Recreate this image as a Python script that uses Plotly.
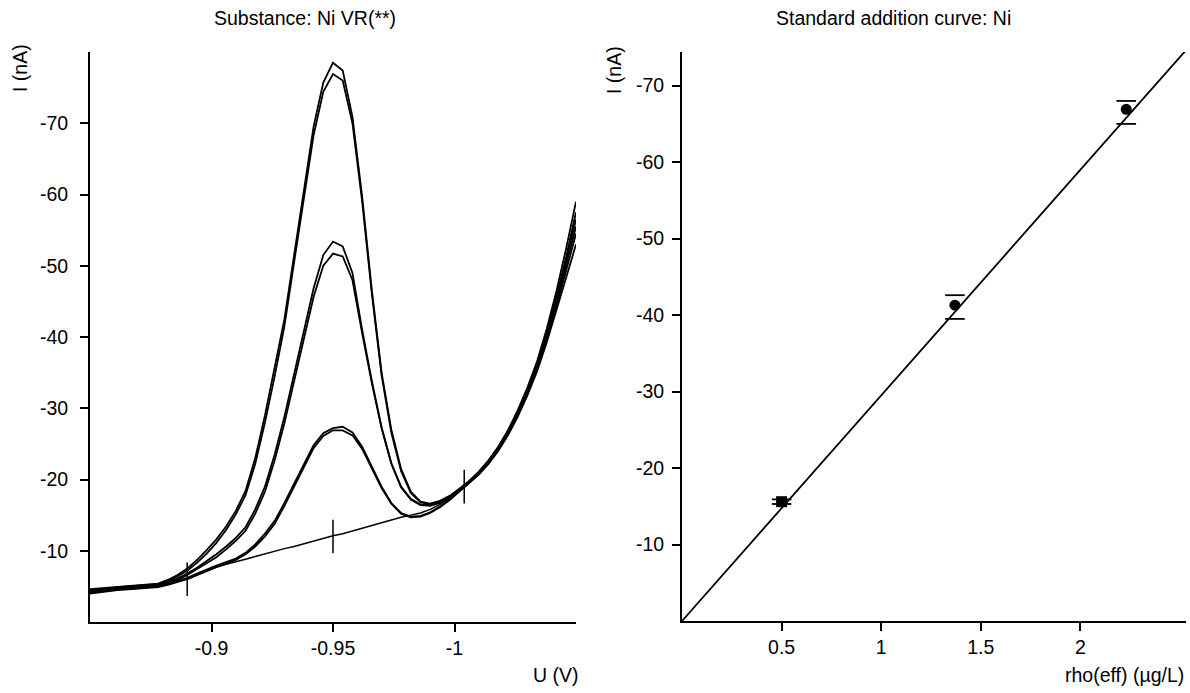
import plotly.graph_objects as go

# ---------------- Left panel: voltammograms ----------------
potential = [-0.850, -0.854, -0.858, -0.862, -0.866, -0.870, -0.874, -0.878, -0.882, -0.886,
             -0.890, -0.894, -0.898, -0.902, -0.906, -0.910, -0.914, -0.918, -0.922, -0.926,
             -0.930, -0.934, -0.938, -0.942, -0.946, -0.950, -0.954, -0.958, -0.962, -0.966,
             -0.970, -0.974, -0.978, -0.982, -0.986, -0.990, -0.994, -0.998, -1.002, -1.006,
             -1.010, -1.014, -1.018, -1.022, -1.026, -1.030, -1.034, -1.038, -1.042, -1.046,
             -1.050]

add2_a = [-4.6, -4.7, -4.8, -5.0, -5.1, -5.2, -5.3, -5.4, -5.9, -6.6, -7.5, -8.7, -10.1, -11.6, -13.4,
          -15.6, -18.4, -23.0, -29.0, -35.5, -42.5, -51.5, -60.7, -69.5, -75.7, -78.5, -77.4, -70.9,
          -59.7, -46.5, -35.0, -27.0, -21.5, -18.3, -16.9, -16.6, -17.0, -17.7, -18.7, -19.8, -21.1,
          -22.7, -24.6, -26.9, -29.7, -32.9, -36.6, -41.2, -46.5, -52.5, -59.0]
add2_b = [-4.4, -4.5, -4.7, -4.9, -5.0, -5.1, -5.2, -5.3, -5.7, -6.4, -7.2, -8.3, -9.6, -11.1, -12.9,
          -15.1, -17.8, -22.2, -28.0, -34.5, -41.5, -50.5, -59.5, -68.3, -74.4, -76.9, -76.0, -70.0,
          -59.0, -46.0, -34.6, -26.6, -21.2, -18.1, -16.8, -16.5, -16.9, -17.6, -18.6, -19.7, -21.0,
          -22.6, -24.5, -26.8, -29.5, -32.7, -36.3, -40.7, -45.7, -51.3, -57.5]
add1_a = [-4.3, -4.4, -4.6, -4.8, -4.9, -5.0, -5.1, -5.2, -5.5, -6.1, -6.8, -7.6, -8.5, -9.5, -10.6,
          -11.8, -13.3, -15.8, -19.0, -23.5, -28.8, -34.8, -40.8, -46.8, -51.5, -53.4, -52.7, -49.0,
          -41.0, -33.8, -27.3, -22.3, -19.0, -17.3, -16.5, -16.4, -16.8, -17.5, -18.5, -19.6, -20.9,
          -22.5, -24.4, -26.7, -29.4, -32.5, -36.1, -40.4, -45.3, -50.7, -56.5]
add1_b = [-4.1, -4.3, -4.5, -4.7, -4.8, -4.9, -5.0, -5.1, -5.4, -5.9, -6.6, -7.4, -8.2, -9.1, -10.2,
          -11.4, -12.8, -15.2, -18.3, -22.7, -27.9, -33.8, -39.8, -45.6, -50.0, -51.7, -51.3, -48.0,
          -40.5, -33.5, -27.2, -22.2, -18.9, -17.2, -16.4, -16.3, -16.7, -17.4, -18.4, -19.5, -20.8,
          -22.4, -24.3, -26.5, -29.2, -32.3, -35.8, -40.0, -44.8, -50.0, -55.5]
sample_a = [-4.2, -4.3, -4.5, -4.6, -4.7, -4.8, -4.9, -5.0, -5.3, -5.7, -6.2, -6.8, -7.4, -7.9, -8.4,
            -8.9, -9.7, -10.9, -12.4, -14.2, -16.7, -19.4, -22.3, -24.8, -26.5, -27.2, -27.4, -26.6,
            -24.6, -21.7, -19.0, -16.7, -15.3, -14.8, -14.9, -15.4, -16.2, -17.2, -18.4, -19.5, -20.8,
            -22.4, -24.2, -26.4, -29.0, -32.1, -35.6, -39.8, -44.4, -49.4, -54.5]
sample_b = [-4.0, -4.2, -4.4, -4.5, -4.6, -4.7, -4.8, -4.9, -5.2, -5.6, -6.0, -6.6, -7.2, -7.7, -8.2,
            -8.7, -9.5, -10.6, -12.0, -13.8, -16.3, -19.0, -21.9, -24.4, -26.1, -26.9, -26.9, -26.2,
            -24.3, -21.5, -18.8, -16.6, -15.2, -14.7, -14.8, -15.3, -16.1, -17.1, -18.3, -19.4, -20.7,
            -22.2, -24.0, -26.2, -28.8, -31.8, -35.2, -39.3, -43.7, -48.4, -53.0]

baseline_u = [-0.890, -0.894, -0.898, -0.902, -0.906, -0.910, -0.914, -0.918, -0.922, -0.926,
              -0.930, -0.934, -0.938, -0.942, -0.946, -0.950, -0.954, -0.958, -0.962, -0.966,
              -0.970, -0.974, -0.978, -0.982, -0.986, -0.990, -0.994, -0.998, -1.002]
baseline_i = [-6.0, -6.6, -7.2, -7.7, -8.1, -8.4, -8.8, -9.2, -9.6, -9.9, -10.3, -10.6, -11.0, -11.4,
              -11.7, -12.1, -12.4, -12.8, -13.2, -13.6, -14.0, -14.4, -14.7, -15.0, -15.3, -15.8,
              -16.5, -17.4, -18.5]
marker_u = [-0.890, -0.950, -1.004]
marker_i = [-6.0, -12.0, -19.0]

left_xticks = [-0.9, -0.95, -1.0]
left_xticktext = ["-0.9", "-0.95", "-1"]
yticks = [-10, -20, -30, -40, -50, -60, -70]
yticktext = ["-10", "-20", "-30", "-40", "-50", "-60", "-70"]

# ---------------- Right panel: standard addition ----------------
conc = [0.5, 1.37, 2.23]
peak_current = [-15.6, -41.3, -66.9]
cap_top = [-15.9, -42.6, -68.0]
cap_bottom = [-15.3, -39.5, -65.0]
point_symbols = ["square", "circle", "circle"]
fit_slope = -29.5
fit_intercept = 0.0
fit_x = [0.0, 2.53]
right_xticks = [0.5, 1, 1.5, 2]
right_xticktext = ["0.5", "1", "1.5", "2"]

FONT = "Liberation Sans, Arial, sans-serif"
FS = 19.5
BLACK = "#000000"

fig = go.Figure()

for curve in [sample_a, sample_b, add1_a, add1_b, add2_a, add2_b]:
    fig.add_trace(go.Scatter(x=potential, y=curve, mode="lines",
                             line=dict(color=BLACK, width=1.8),
                             xaxis="x", yaxis="y", showlegend=False, hoverinfo="skip"))

fig.add_trace(go.Scatter(x=baseline_u, y=baseline_i, mode="lines",
                         line=dict(color=BLACK, width=1.5),
                         xaxis="x", yaxis="y", showlegend=False))
fig.add_trace(go.Scatter(x=marker_u, y=marker_i, mode="markers",
                         marker=dict(symbol="line-ns", size=24,
                                     line=dict(color=BLACK, width=1.5)),
                         xaxis="x", yaxis="y", showlegend=False))

fit_y = [fit_slope * v + fit_intercept for v in fit_x]
fig.add_trace(go.Scatter(x=fit_x, y=fit_y, mode="lines",
                         line=dict(color=BLACK, width=1.8),
                         xaxis="x2", yaxis="y2", showlegend=False))
fig.add_trace(go.Scatter(x=conc + conc, y=cap_top + cap_bottom, mode="markers",
                         marker=dict(symbol="line-ew", size=14,
                                     line=dict(color=BLACK, width=1.8)),
                         xaxis="x2", yaxis="y2", showlegend=False))
fig.add_trace(go.Scatter(x=conc, y=peak_current, mode="markers",
                         marker=dict(symbol=point_symbols, size=11, color=BLACK,
                                     line=dict(width=0)),
                         xaxis="x2", yaxis="y2", showlegend=False))

axis_common = dict(showline=True, linecolor=BLACK, linewidth=1.8, mirror=False,
                   ticks="outside", ticklen=8, tickwidth=1.5, tickcolor=BLACK,
                   showgrid=False, zeroline=False,
                   tickfont=dict(family=FONT, size=FS, color=BLACK))

fig.update_layout(
    width=1190, height=693,
    margin=dict(l=0, r=0, t=0, b=0),
    paper_bgcolor="white", plot_bgcolor="white",
    font=dict(family=FONT, size=FS, color=BLACK),
    xaxis=dict(domain=[90 / 1190, 576 / 1190], range=[-0.85, -1.05],
               tickvals=left_xticks, ticktext=left_xticktext, anchor="y", **axis_common),
    yaxis=dict(domain=[71 / 693, 641 / 693], range=[0, -80], ticklabelstandoff=8,
               tickvals=yticks, ticktext=yticktext, anchor="x", **axis_common),
    xaxis2=dict(domain=[682 / 1190, 1186 / 1190], range=[0, 2.53],
                tickvals=right_xticks, ticktext=right_xticktext, anchor="y2", **axis_common),
    yaxis2=dict(domain=[72 / 693, 641 / 693], range=[0, -74.4], ticklabelstandoff=4,
                tickvals=yticks, ticktext=yticktext, anchor="x2", **axis_common),
)

ann = [
    dict(text="Substance: Ni VR(**)", x=305 / 1190, y=1 - 18 / 693, xanchor="center", yanchor="middle"),
    dict(text="Standard addition curve: Ni", x=893 / 1190, y=1 - 18 / 693, xanchor="center", yanchor="middle"),
    dict(text="I (nA)", x=20 / 1190, y=1 - 68 / 693, xanchor="center", yanchor="middle", textangle=-90),
    dict(text="I (nA)", x=614 / 1190, y=1 - 70 / 693, xanchor="center", yanchor="middle", textangle=-90),
    dict(text="U (V)", x=581 / 1190, y=1 - 675 / 693, xanchor="right", yanchor="middle"),
    dict(text="rho(eff) (µg/L)", x=1186 / 1190, y=1 - 675 / 693, xanchor="right", yanchor="middle"),
]
for a in ann:
    a.update(xref="paper", yref="paper", showarrow=False,
             font=dict(family=FONT, size=FS, color=BLACK))
fig.update_layout(annotations=ann)

fig.write_html("out.html", config={"displayModeBar": False},
               post_script="document.body.style.margin='0';")
